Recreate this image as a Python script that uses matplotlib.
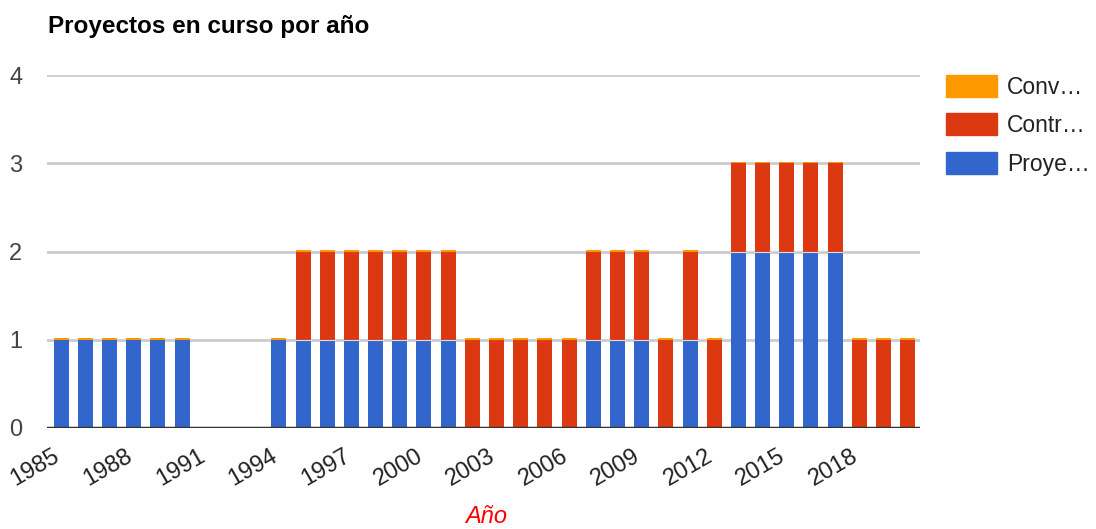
import matplotlib.pyplot as plt
import matplotlib.patches as mpatches
import numpy as np

# data
years = list(range(1985, 2021))
proyectos = [1, 1, 1, 1, 1, 1, 0, 0, 0, 1,
             1, 1, 1, 1, 1, 1, 1, 0, 0, 0,
             0, 0, 1, 1, 1, 0, 1, 0, 2, 2,
             2, 2, 2, 0, 0, 0]
contratos = [0, 0, 0, 0, 0, 0, 0, 0, 0, 0,
             1, 1, 1, 1, 1, 1, 1, 1, 1, 1,
             1, 1, 1, 1, 1, 1, 1, 1, 1, 1,
             1, 1, 1, 1, 1, 1]
convenios = [0] * 36
legend_labels = ["Conv…", "Contr…", "Proye…"]
tick_years = list(range(1985, 2019, 3))

blue = "#3366CC"
red = "#DC3912"
orange = "#FF9900"

plt.rcParams['font.family'] = ['Liberation Sans', 'DejaVu Sans']

fig = plt.figure(figsize=(10.96, 5.29), dpi=100)
ax = fig.add_axes([0.043, 0.191, 0.796, 0.667])

x = np.array(years)
p = np.array(proyectos, dtype=float)
c = np.array(contratos, dtype=float)
v = np.array(convenios, dtype=float)
total = p + c
w = 0.62

ax.bar(x, p, w, color=blue, zorder=3)
ax.bar(x, c, w, bottom=p, color=red, zorder=3)
# zero-valued convenios still show as a hairline on top of each bar
v_draw = np.where(total > 0, np.maximum(v, 0.018), 0)
ax.bar(x, v_draw, w, bottom=total, color=orange, zorder=3)
# thin separators between stacked segments
for xi, pi, ci in zip(x, p, c):
    if pi > 0 and ci > 0:
        ax.plot([xi - w / 2, xi + w / 2], [pi, pi], color="#dddddd",
                lw=0.8, zorder=4)

ax.set_xlim(1984.42, 2020.49)
ax.set_ylim(0, 4)
ax.set_yticks([0, 1, 2, 3, 4])
ax.grid(axis='y', color="#cccccc", lw=2, zorder=0)
ax.axhline(0, color="#333333", lw=2.5, zorder=5)
for s in ax.spines.values():
    s.set_visible(False)

ax.set_xticks(tick_years)
ax.set_xticklabels([str(t) for t in tick_years], rotation=30, ha='right',
                   va='baseline', rotation_mode='anchor', fontsize=17,
                   color="#222222")
ax.tick_params(axis='x', length=0, pad=23)
ax.tick_params(axis='y', length=0, pad=18, labelsize=17, labelcolor="#444444")

ax.set_xlabel("Año", fontsize=17, style='italic', color="#ff0000")
ax.xaxis.set_label_coords(0.503, -0.218)

fig.text(0.044, 0.95, "Proyectos en curso por año", fontsize=17.5,
         fontweight='bold', color="#000000", va='center')

handles = [mpatches.Patch(color=orange), mpatches.Patch(color=red),
           mpatches.Patch(color=blue)]
fig.legend(handles, legend_labels, loc='upper left',
           bbox_to_anchor=(0.855, 0.876), frameon=False, fontsize=16.5,
           handlelength=2.2, handleheight=1.1, handletextpad=0.45,
           labelspacing=0.65, borderaxespad=0, labelcolor="#222222")

fig.savefig("out.png", dpi=100)
